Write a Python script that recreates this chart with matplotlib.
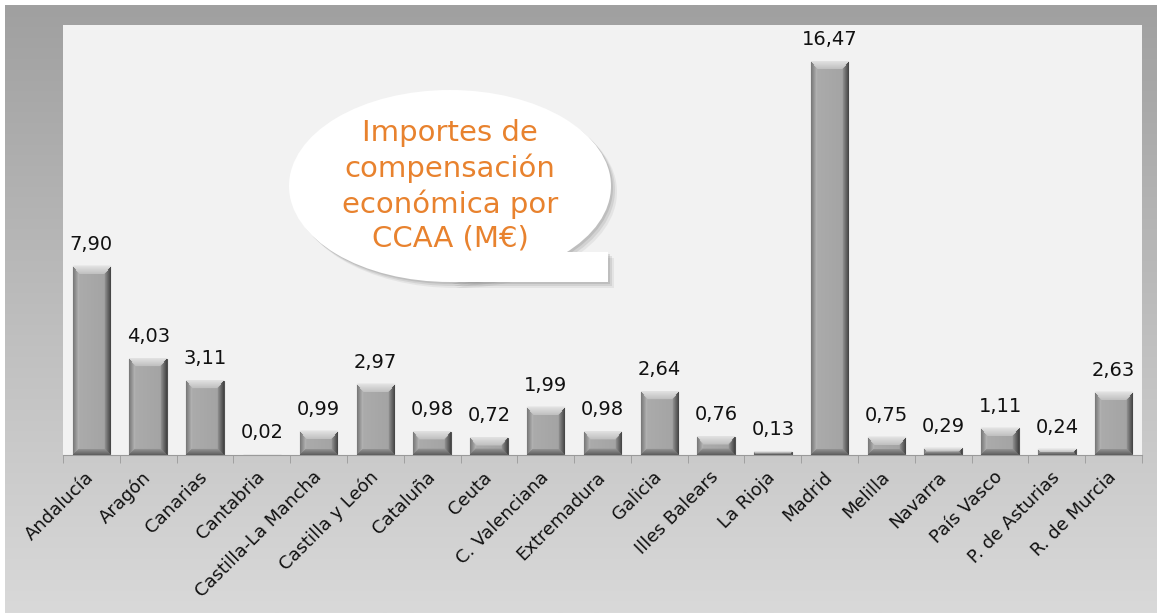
import numpy as np
import matplotlib
matplotlib.use('Agg')
import matplotlib.pyplot as plt
from matplotlib.patches import Ellipse, Polygon
from matplotlib.colors import to_rgb

# --------------------------------- Data ---------------------------------
regions = ['Andalucía', 'Aragón', 'Canarias', 'Cantabria', 'Castilla-La Mancha',
           'Castilla y León', 'Cataluña', 'Ceuta', 'C. Valenciana', 'Extremadura',
           'Galicia', 'Illes Balears', 'La Rioja', 'Madrid', 'Melilla', 'Navarra',
           'País Vasco', 'P. de Asturias', 'R. de Murcia']
values = [7.90, 4.03, 3.11, 0.02, 0.99, 2.97, 0.98, 0.72, 1.99, 0.98,
          2.64, 0.76, 0.13, 16.47, 0.75, 0.29, 1.11, 0.24, 2.63]
bubbleText = 'Importes de\ncompensación\neconómica por\nCCAA (M€)'

W, H = 1157, 614
fig = plt.figure(figsize=(W / 100, H / 100), dpi=100)
fig.patch.set_facecolor('white')

# background frame with vertical gradient
bg = fig.add_axes([5 / W, 1 / H, 1 - 5 / W, 1 - 6 / H], zorder=0)
grad = np.linspace(0, 1, 256)[:, None]
top, bot = np.array(to_rgb('#a0a0a0')), np.array(to_rgb('#d9d9d9'))
img = top[None, None, :] * (1 - grad[..., None]) + bot[None, None, :] * grad[..., None]
bg.imshow(img, aspect='auto', extent=(0, 1, 0, 1))
bg.set_axis_off()

axL, axR, axT, axB = 63, 1142, 25, 455
ax = fig.add_axes([axL / W, 1 - axB / H, (axR - axL) / W, (axB - axT) / H], zorder=1)
ax.set_facecolor('#f2f2f2')
n = len(values)
x = np.arange(n)
barWidth = 0.66

for s in ['left', 'right', 'top']:
    ax.spines[s].set_visible(False)
ax.spines['bottom'].set_color('#9a9a9a')
ax.set_yticks([])
ax.set_xticks(np.arange(n + 1) - 0.5, minor=True)
ax.set_xticks(x)
ax.set_xticklabels(regions, rotation=45, ha='right', va='center',
                   rotation_mode='anchor', fontsize=13, color='#111111')
ax.tick_params(axis='x', which='major', length=0, pad=14)
ax.tick_params(axis='x', which='minor', length=6, color='#9a9a9a')

# bevelled bars
pxPerUnitX = (axR - axL) / n
pxPerUnitY = (axB - axT) / 18.0
bevSide, bevTop = 6, 8
face = np.array(to_rgb('#a6a6a6'))
for xi, v in zip(x, values):
    wpx = int(round(barWidth * pxPerUnitX))
    hpx = int(round(v * pxPerUnitY))
    ax.bar(xi, v, width=barWidth, color='#a6a6a6', edgecolor='#505050',
           linewidth=0.8, zorder=2)
    if hpx < 3:
        continue
    im = np.ones((hpx, wpx, 3)) * face
    bs = min(bevSide, hpx // 2)
    bt = min(bevTop, hpx // 2)
    for i in range(hpx):
        for j in range(wpx):
            dl, dr = j / bs, (wpx - 1 - j) / bs
            dt, db = i / bt, (hpx - 1 - i) / bs
            m = min(dl, dr, dt, db)
            if m >= 1:
                t = j / max(wpx - 1, 1)
                im[i, j] = face * (1.04 - 0.06 * t)
                continue
            f = m
            if m == dt:
                c = 0.88 - 0.14 * f
            elif m == db:
                c = 0.38 + 0.22 * f
            elif m == dl:
                c = 0.48 + 0.26 * f
            else:
                c = 0.28 + 0.32 * f
            im[i, j] = c
    im = np.clip(im, 0, 1)
    ax.imshow(im, extent=(xi - barWidth / 2, xi + barWidth / 2, 0, v),
              aspect='auto', interpolation='bilinear', zorder=3)

ax.set_aspect('auto')
ax.set_xlim(-0.5, n - 0.5)
ax.set_ylim(0, 18)

for xi, v in zip(x, values):
    ax.annotate(f'{v:.2f}'.replace('.', ','), (xi, v), xytext=(0, 9),
                textcoords='offset points', ha='center', va='bottom',
                fontsize=14, color='#111111', zorder=4)

# speech bubble overlay in pixel coordinates
ov = fig.add_axes([0, 0, 1, 1], zorder=5)
ov.set_xlim(0, W)
ov.set_ylim(H, 0)
ov.set_axis_off()
ov.patch.set_alpha(0)
cx, cy, ew, eh = 450, 186, 322, 192
for dx, alpha in [(6, 0.10), (4, 0.15), (2, 0.2)]:
    ov.add_patch(Ellipse((cx + dx, cy + dx), ew, eh, color='#707070', alpha=alpha, lw=0))
    ov.add_patch(Polygon([(cx + dx, 282 + dx), (608 + dx, 282 + dx), (608 + dx, 252 + dx),
                          (560 + dx, 252 + dx)], color='#707070', alpha=alpha, lw=0))
ov.add_patch(Ellipse((cx, cy), ew, eh, color='white', lw=0))
ov.add_patch(Polygon([(cx, 282), (608, 282), (608, 252), (560, 252), (500, 260)],
                     color='white', lw=0))
ov.text(cx, 186, bubbleText, ha='center', va='center', fontsize=21,
        color='#e8822e', linespacing=1.27)

plt.savefig('out.png', dpi=100)
plt.close()
